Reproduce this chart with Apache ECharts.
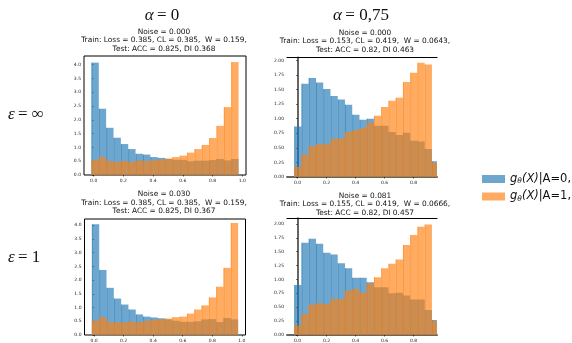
<!DOCTYPE html>
<html><head><meta charset="utf-8">
<script src="https://cdn.jsdelivr.net/npm/echarts@6/dist/echarts.min.js"></script>
<style>html,body{margin:0;padding:0;background:#fff}#c{width:572px;height:343px}</style>
</head><body><div id="c"></div>
<script>
// ---- text ----
const colTitles = ['0', '0,75'];
const rowTitles = ['\u221E', '1'];
const panelNoise = ['Noise = 0.000', 'Noise = 0.000', 'Noise = 0.030', 'Noise = 0.081'];
const panelTrain = [
  'Train: Loss = 0.385, CL = 0.385,  W = 0.159,',
  'Train: Loss = 0.153, CL = 0.419,  W = 0.0643,',
  'Train: Loss = 0.385, CL = 0.385,  W = 0.159,',
  'Train: Loss = 0.155, CL = 0.419,  W = 0.0666,'
];
const panelTest = [
  'Test: ACC = 0.825, DI 0.368',
  'Test: ACC = 0.82, DI 0.463',
  'Test: ACC = 0.825, DI 0.367',
  'Test: ACC = 0.82, DI 0.457'
];
const legendNames = ['A=0,', 'A=1,'];

// ---- ticks ----
const xTicks = [0, 0.2, 0.4, 0.6, 0.8, 1.0];
const yTicksLeft = [0, 0.5, 1.0, 1.5, 2.0, 2.5, 3.0, 3.5, 4.0];
const yTicksRight = [0, 0.25, 0.5, 0.75, 1.0, 1.25, 1.5, 1.75, 2.0];

// ---- histogram bins ----
const binStartLeft = -0.015, binWidthLeft = 0.0495;
const binStartRight = -0.023, binWidthRight = 0.05;

// ---- series values (density per bin) ----
const blueTL   = [4.07, 2.40, 1.71, 1.35, 1.12, 0.94, 0.77, 0.74, 0.65, 0.62, 0.58, 0.55, 0.55, 0.50, 0.52, 0.52, 0.54, 0.58, 0.53, 0.58];
const orangeTL = [0.54, 0.65, 0.51, 0.47, 0.51, 0.47, 0.53, 0.51, 0.53, 0.56, 0.60, 0.65, 0.70, 0.81, 0.94, 1.09, 1.34, 1.78, 2.46, 4.09];
const blueTR   = [0.865, 1.60, 1.70, 1.62, 1.51, 1.39, 1.33, 1.24, 1.07, 0.98, 1.00, 0.88, 0.88, 0.77, 0.72, 0.76, 0.62, 0.61, 0.48, 0.27];
const orangeTR = [0.17, 0.38, 0.53, 0.56, 0.56, 0.65, 0.66, 0.77, 0.80, 0.84, 0.93, 1.05, 1.20, 1.31, 1.36, 1.63, 1.79, 1.96, 1.93, 0.25];
const blueBL   = [4.04, 2.37, 1.72, 1.33, 1.11, 0.93, 0.75, 0.67, 0.64, 0.61, 0.57, 0.52, 0.48, 0.48, 0.50, 0.57, 0.58, 0.47, 0.62, 0.57];
const orangeBL = [0.52, 0.65, 0.48, 0.46, 0.46, 0.49, 0.46, 0.52, 0.55, 0.57, 0.60, 0.65, 0.67, 0.78, 0.93, 1.08, 1.37, 1.76, 2.45, 4.08];
const blueBR   = [0.90, 1.66, 1.73, 1.64, 1.48, 1.45, 1.29, 1.20, 1.03, 1.03, 0.95, 0.86, 0.86, 0.75, 0.76, 0.71, 0.64, 0.64, 0.45, 0.27];
const orangeBR = [0.17, 0.38, 0.55, 0.57, 0.56, 0.65, 0.65, 0.80, 0.83, 0.76, 0.93, 1.04, 1.20, 1.28, 1.36, 1.62, 1.80, 1.95, 1.99, 0.25];

const BLUE = '#1f77b4', ORANGE = '#ff7f0e';

const panels = [
  {blue: blueTL, orange: orangeTL, start: binStartLeft, w: binWidthLeft, grid: {left: 84, top: 56, width: 162, height: 119}, xr: [-0.065, 1.025], ymax: 4.31, yt: yTicksLeft, yd: 1, full: true, tx: 164, ty: 32},
  {blue: blueTR, orange: orangeTR, start: binStartRight, w: binWidthRight, grid: {left: 287, top: 57.5, width: 150, height: 119.5}, xr: [-0.073, 0.962], ymax: 2.05, yt: yTicksRight, yd: 2, full: false, tx: 365, ty: 33},
  {blue: blueBL, orange: orangeBL, start: binStartLeft, w: binWidthLeft, grid: {left: 84.5, top: 219, width: 161, height: 116.7}, xr: [-0.065, 1.025], ymax: 4.23, yt: yTicksLeft, yd: 1, full: true, tx: 164, ty: 194.5},
  {blue: blueBR, orange: orangeBR, start: binStartRight, w: binWidthRight, grid: {left: 287, top: 218.3, width: 150, height: 120.4}, xr: [-0.073, 0.962], ymax: 2.10, yt: yTicksRight, yd: 2, full: false, tx: 365, ty: 196}
];

function toBins(vals, start, w) {
  return vals.map((v, i) => [start + i * w, start + (i + 1) * w, v]);
}

function renderBar(params, api) {
  const x0 = api.value(0), x1 = api.value(1), v = api.value(2);
  const a = api.coord([x0, v]), b = api.coord([x1, 0]);
  const c = api.visual('color');
  return {type: 'group', children: [
    {type: 'rect', shape: {x: a[0], y: a[1], width: b[0] - a[0], height: b[1] - a[1]}, style: {fill: c, opacity: 0.65}},
    {type: 'line', shape: {x1: a[0] + 0.5, y1: a[1], x2: a[0] + 0.5, y2: b[1]}, style: {stroke: c, lineWidth: 1, opacity: 0.45}}
  ]};
}

const grids = [], xAxes = [], yAxes = [], series = [], graphics = [];
const tickFont = {fontSize: 4.5, color: '#222', fontFamily: 'DejaVu Sans'};

panels.forEach((p, gi) => {
  grids.push(Object.assign({show: p.full, borderColor: '#000', borderWidth: 1, containLabel: false}, p.grid));
  xAxes.push({
    type: 'value', gridIndex: gi, min: p.xr[0], max: p.xr[1], position: 'bottom',
    splitLine: {show: false},
    axisLine: {show: !p.full, onZero: false, lineStyle: {color: '#666', width: 2}},
    axisTick: {show: true, customValues: xTicks, length: 1.5, lineStyle: {color: '#000', width: 0.6}},
    axisLabel: Object.assign({customValues: xTicks, margin: 3, formatter: v => v.toFixed(1)}, tickFont)
  });
  yAxes.push({
    type: 'value', gridIndex: gi, min: 0, max: p.ymax,
    splitLine: {show: false},
    axisLine: {show: !p.full, lineStyle: {color: '#666', width: 2}},
    axisTick: {show: true, customValues: p.yt, length: 1.5, lineStyle: {color: '#000', width: 0.6}},
    axisLabel: Object.assign({customValues: p.yt, margin: 3, formatter: v => v.toFixed(p.yd)}, tickFont)
  });
  const xi = xAxes.length - 1, yi = yAxes.length - 1;
  if (!p.full) {
    xAxes.push({
      type: 'value', gridIndex: gi, min: p.xr[0], max: p.xr[1], position: 'top',
      splitLine: {show: false}, axisTick: {show: false}, axisLabel: {show: false},
      axisLine: {show: true, onZero: false, lineStyle: {color: '#000', width: 1.2}}
    });
  }
  series.push({
    type: 'custom', name: legendNames[0], xAxisIndex: xi, yAxisIndex: yi, clip: true,
    itemStyle: {color: BLUE}, renderItem: renderBar, data: toBins(p.blue, p.start, p.w), silent: true
  });
  series.push({
    type: 'custom', name: legendNames[1], xAxisIndex: xi, yAxisIndex: yi, clip: true,
    itemStyle: {color: ORANGE}, renderItem: renderBar, data: toBins(p.orange, p.start, p.w), silent: true
  });
  [panelNoise[gi], panelTrain[gi], panelTest[gi]].forEach((t, li) => {
    graphics.push({type: 'text', x: p.tx, y: p.ty + li * 8.4, style: {
      text: t, fill: '#111', font: '7.4px "DejaVu Sans"', textAlign: 'center', textVerticalAlign: 'middle'}});
  });
});

// column titles
const colX = [162, 361];
colTitles.forEach((t, i) => {
  graphics.push({type: 'text', x: colX[i], y: 16, style: {
    text: '{g|\u03B1} {n|= ' + t + '}', textAlign: 'center', textVerticalAlign: 'middle',
    rich: {g: {fontFamily: 'Liberation Serif', fontStyle: 'italic', fontSize: 17, fill: '#111'},
           n: {fontFamily: 'Liberation Serif', fontSize: 17, fill: '#111'}}}});
});
// row titles
const rowY = [115, 258];
rowTitles.forEach((t, i) => {
  graphics.push({type: 'text', x: 8, y: rowY[i], style: {
    text: '{g|\u03B5} {n|= ' + t + '}', textAlign: 'left', textVerticalAlign: 'middle',
    rich: {g: {fontFamily: 'Liberation Serif', fontStyle: 'italic', fontSize: 17, fill: '#111'},
           n: {fontFamily: 'Liberation Serif', fontSize: 17, fill: '#111'}}}});
});

const chart = echarts.init(document.getElementById('c'), null, {renderer: 'canvas'});
chart.setOption({
  animation: false,
  backgroundColor: '#fff',
  grid: grids, xAxis: xAxes, yAxis: yAxes, series: series,
  legend: {
    left: 477, top: 168, orient: 'vertical', selectedMode: false,
    itemWidth: 23, itemHeight: 8, itemGap: 5, icon: 'rect',
    data: [{name: legendNames[0], itemStyle: {color: '#6da7ce'}}, {name: legendNames[1], itemStyle: {color: '#ffac62'}}],
    formatter: n => '{i|g}{s|\u03B8}{i|(X)}{n||' + n + '}',
    textStyle: {
      lineHeight: 12, padding: [0, 0, 0, 0],
      rich: {
        i: {fontFamily: 'DejaVu Sans', fontStyle: 'italic', fontSize: 11.5, color: '#111'},
        s: {fontFamily: 'DejaVu Sans', fontStyle: 'italic', fontSize: 7.5, color: '#111', padding: [5, 0, 0, 0]},
        n: {fontFamily: 'DejaVu Sans', fontSize: 11.5, color: '#111'}
      }
    }
  },
  graphic: graphics
});
</script>
</body></html>
